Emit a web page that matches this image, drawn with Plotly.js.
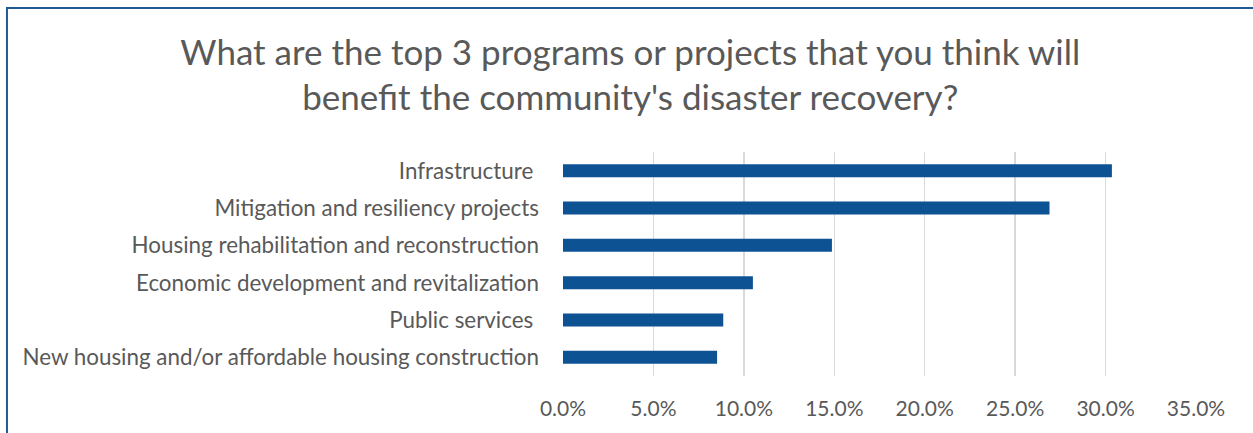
<!DOCTYPE html>
<html>
<head>
<meta charset="utf-8">
<script src="https://cdn.plot.ly/plotly-3.0.1.min.js"></script>
<style>
  html, body { margin: 0; padding: 0; background: #ffffff; }
  #chart { width: 1253px; height: 433px; }
</style>
</head>
<body>
<div id="chart"></div>
<script>
const categories = [
  "Infrastructure ",
  "Mitigation and resiliency projects",
  "Housing rehabilitation and reconstruction",
  "Economic development and revitalization",
  "Public services ",
  "New housing and/or affordable housing construction"
];
const values = [0.3035, 0.269, 0.1487, 0.105, 0.0886, 0.0852];
const tickValues = [0, 0.05, 0.10, 0.15, 0.20, 0.25, 0.30, 0.35];
const tickLabels = ["0.0%", "5.0%", "10.0%", "15.0%", "20.0%", "25.0%", "30.0%", "35.0%"];
const titleText = "What are the top 3 programs or projects that you think will<br>benefit the community's disaster recovery?";

const FONT = "Lato, 'Open Sans', sans-serif";

const trace = {
  type: "bar",
  orientation: "h",
  x: values,
  y: categories,
  marker: { color: "#0D5293", line: { width: 0 } },
  hoverinfo: "x+y"
};

const layout = {
  width: 1253,
  height: 433,
  margin: { l: 563, r: 57, t: 152, b: 57, pad: 0 },
  paper_bgcolor: "#ffffff",
  plot_bgcolor: "#ffffff",
  showlegend: false,
  bargap: 0.65,
  title: {
    text: titleText,
    font: { family: FONT, size: 35, color: "#595959" },
    x: 0.503, xanchor: "center",
    y: 0.85, yanchor: "middle",
    xref: "container", yref: "container"
  },
  xaxis: {
    range: [0, 0.35],
    tickvals: tickValues,
    ticktext: tickLabels,
    showgrid: true,
    gridcolor: "#D9D9D9",
    gridwidth: 1.5,
    zeroline: false,
    showline: false,
    ticks: "",
    ticklabelstandoff: 18,
    tickfont: { family: FONT, size: 21, color: "#595959" },
    fixedrange: true
  },
  yaxis: {
    autorange: "reversed",
    showgrid: false,
    zeroline: false,
    showline: false,
    ticks: "",
    ticklabelstandoff: 23,
    tickfont: { family: FONT, size: 22.4, color: "#595959" },
    fixedrange: true
  },
  shapes: [{
    type: "rect",
    xref: "paper", yref: "paper",
    x0: -0.8784, x1: 1.3,
    y0: -0.6, y1: 1.643,
    line: { color: "#1F5A96", width: 2 },
    fillcolor: "rgba(0,0,0,0)",
    layer: "above"
  }]
};

Plotly.newPlot("chart", [trace], layout, { displayModeBar: false, staticPlot: true });
</script>
</body>
</html>
